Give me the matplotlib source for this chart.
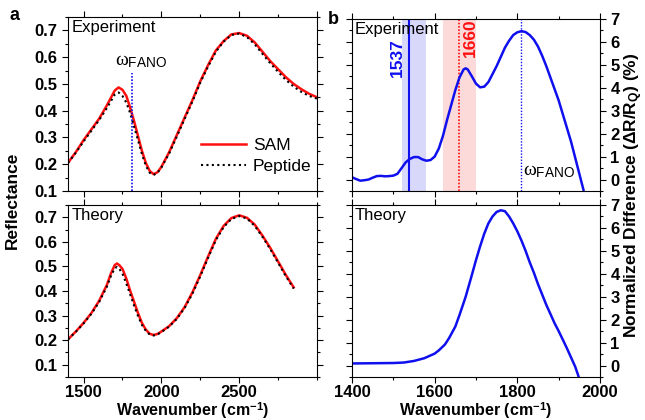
import matplotlib
matplotlib.use("Agg")
import matplotlib.pyplot as plt
from matplotlib.ticker import MultipleLocator, FormatStrFormatter

plt.rcParams['font.family'] = ['Liberation Sans', 'DejaVu Sans']
plt.rcParams['mathtext.fontset'] = 'custom'
plt.rcParams['mathtext.rm'] = 'Liberation Sans'
plt.rcParams['mathtext.it'] = 'Liberation Serif'
plt.rcParams['mathtext.bf'] = 'Liberation Sans:bold'
plt.rcParams['mathtext.sf'] = 'Liberation Sans'

# ---------------- data ----------------
# (a) Experiment reflectance
exp_wn = [1400, 1450, 1500, 1550, 1600, 1650, 1700, 1725, 1750, 1775, 1800, 1825, 1850,
          1875, 1900, 1925, 1950, 1975, 2000, 2050, 2100, 2150, 2200, 2250, 2300, 2350,
          2400, 2450, 2500, 2550, 2600, 2650, 2700, 2750, 2800, 2850, 2900, 2950, 3000]
exp_sam = [0.205, 0.245, 0.29, 0.33, 0.37, 0.42, 0.475, 0.487, 0.478, 0.455, 0.41, 0.36, 0.305,
           0.25, 0.205, 0.175, 0.163, 0.17, 0.19, 0.245, 0.31, 0.375, 0.44, 0.51, 0.57, 0.625,
           0.66, 0.685, 0.69, 0.68, 0.655, 0.62, 0.585, 0.555, 0.525, 0.5, 0.48, 0.463, 0.45]
exp_pep = [0.205, 0.243, 0.285, 0.325, 0.365, 0.41, 0.46, 0.468, 0.455, 0.43, 0.39, 0.34, 0.29,
           0.238, 0.195, 0.168, 0.16, 0.168, 0.188, 0.24, 0.305, 0.37, 0.435, 0.505, 0.565, 0.62,
           0.658, 0.683, 0.688, 0.675, 0.648, 0.612, 0.577, 0.545, 0.515, 0.49, 0.47, 0.455, 0.445]

# (a) Theory reflectance
th_wn = [1400, 1450, 1500, 1550, 1600, 1650, 1675, 1700, 1715, 1730, 1750, 1775, 1800, 1825,
         1850, 1875, 1900, 1925, 1950, 1975, 2000, 2050, 2100, 2150, 2200, 2250, 2300, 2350,
         2400, 2450, 2500, 2550, 2600, 2650, 2700, 2750, 2800, 2850]
th_sam = [0.203, 0.235, 0.27, 0.31, 0.36, 0.425, 0.47, 0.505, 0.512, 0.505, 0.49, 0.45, 0.40, 0.355,
          0.31, 0.27, 0.243, 0.226, 0.221, 0.225, 0.235, 0.257, 0.29, 0.335, 0.395, 0.465, 0.54, 0.612,
          0.665, 0.697, 0.708, 0.698, 0.67, 0.625, 0.575, 0.52, 0.465, 0.415]
th_pep = [0.203, 0.234, 0.268, 0.307, 0.355, 0.418, 0.46, 0.492, 0.498, 0.49, 0.47, 0.43, 0.385, 0.34,
          0.298, 0.262, 0.238, 0.223, 0.219, 0.223, 0.233, 0.255, 0.287, 0.332, 0.39, 0.46, 0.535, 0.607,
          0.66, 0.693, 0.705, 0.695, 0.665, 0.62, 0.57, 0.515, 0.46, 0.41]

# (b) Experiment normalized difference (%)
dexp_wn = [1400, 1410, 1420, 1430, 1440, 1450, 1460, 1470, 1480, 1490, 1500, 1510, 1520, 1530,
           1540, 1550, 1560, 1570, 1580, 1590, 1600, 1610, 1620, 1630, 1640, 1650, 1660, 1670,
           1675, 1680, 1690, 1700, 1710, 1720, 1730, 1740, 1750, 1760, 1770, 1780, 1790, 1800,
           1810, 1820, 1830, 1840, 1850, 1860, 1870, 1880, 1890, 1900, 1910, 1920, 1930, 1940,
           1950, 1960]
dexp_val = [0.1, 0.02, -0.05, -0.03, 0.0, 0.08, 0.15, 0.16, 0.14, 0.15, 0.17, 0.25, 0.5, 0.75,
            0.9, 0.98, 0.98, 0.88, 0.82, 0.85, 1.0, 1.35, 1.9, 2.6, 3.25, 3.9, 4.45, 4.8,
            4.85, 4.8, 4.5, 4.18, 4.02, 4.05, 4.25, 4.6, 4.95, 5.35, 5.75, 6.05, 6.3, 6.42,
            6.47, 6.43, 6.3, 6.1, 5.8, 5.4, 4.95, 4.45, 3.95, 3.45, 2.85, 2.25, 1.65, 0.95,
            0.25, -0.45]

# (b) Theory normalized difference (%)
dth_wn = [1400, 1450, 1500, 1525, 1550, 1575, 1600, 1610, 1625, 1635, 1650, 1660, 1675, 1690,
          1700, 1710, 1720, 1730, 1740, 1750, 1760, 1770, 1780, 1790, 1800, 1810, 1820, 1830,
          1840, 1850, 1860, 1870, 1880, 1890, 1900, 1910, 1920, 1930, 1940, 1948]
dth_val = [0.09, 0.1, 0.11, 0.13, 0.2, 0.32, 0.52, 0.66, 0.92, 1.2, 1.7, 2.2, 3.0, 3.95,
           4.6, 5.2, 5.75, 6.2, 6.5, 6.7, 6.77, 6.73, 6.5, 6.2, 5.85, 5.45, 5.0, 4.5,
           4.05, 3.55, 3.1, 2.65, 2.25, 1.85, 1.5, 1.13, 0.75, 0.35, -0.05, -0.47]

fano_a = 1812
mode_amide2 = 1537
band_amide2 = (1520, 1580)
mode_amide1 = 1660
band_amide1 = (1620, 1700)
fano_b = 1810

# ---------------- figure ----------------
fig = plt.figure(figsize=(6.45, 4.2), dpi=100)
L, W = 68/645, 249/645
R, WR = 352/645, 248/645
ax1 = fig.add_axes([L, 1-191/420, W, 174/420])
ax2 = fig.add_axes([L, 1-377/420, W, 172/420])
ax3 = fig.add_axes([R, 1-191/420, WR, 172/420])
ax4 = fig.add_axes([R, 1-377/420, WR, 172/420])

red = '#ff1010'
blue = '#1010ee'

def style(ax):
    ax.tick_params(which='both', direction='out', top=True, right=True, left=True, bottom=True,
                   labelsize=12, width=0.8)
    ax.tick_params(which='major', length=4)
    ax.tick_params(which='minor', length=2.5)
    ax.tick_params(axis='x', pad=2)
    for s in ax.spines.values():
        s.set_linewidth(0.8)

def bold_ticks(ax):
    for lab in ax.get_xticklabels() + ax.get_yticklabels():
        lab.set_fontweight('bold')

# (a) experiment
ax1.plot(exp_wn, exp_sam, color=red, lw=1.8, label='SAM')
ax1.plot(exp_wn, exp_pep, color='black', lw=1.5, ls=(0, (1, 1.6)), label='Peptide')
ax1.plot([fano_a, fano_a], [0.1, 0.54], color=blue, lw=1.2, ls=(0, (1, 1)))
ax1.set_xlim(1400, 3000)
ax1.set_ylim(0.1, 0.75)
ax1.xaxis.set_major_locator(MultipleLocator(500))
ax1.xaxis.set_minor_locator(MultipleLocator(250))
ax1.yaxis.set_major_locator(MultipleLocator(0.1))
ax1.yaxis.set_minor_locator(MultipleLocator(0.05))
ax1.yaxis.set_major_formatter(FormatStrFormatter('%.1f'))
ax1.text(0.015, 0.985, 'Experiment', transform=ax1.transAxes, fontsize=12, va='top', ha='left')
ax1.text(1700, 0.585, r'$\omega_{\rm FANO}$', fontsize=14, ha='left', va='center')
ax1.legend(loc='lower right', bbox_to_anchor=(1.02, 0.04), frameon=False, fontsize=12.5,
           handlelength=2.6, handletextpad=0.4, labelspacing=0.3, borderaxespad=0.2)
style(ax1)
ax1.tick_params(labelbottom=False)
bold_ticks(ax1)

# (a) theory
ax2.plot(th_wn, th_sam, color=red, lw=1.8)
ax2.plot(th_wn, th_pep, color='black', lw=1.5, ls=(0, (1, 1.6)))
ax2.set_xlim(1400, 3000)
ax2.set_ylim(0.05, 0.75)
ax2.xaxis.set_major_locator(MultipleLocator(500))
ax2.xaxis.set_minor_locator(MultipleLocator(250))
ax2.yaxis.set_major_locator(MultipleLocator(0.1))
ax2.yaxis.set_minor_locator(MultipleLocator(0.05))
ax2.yaxis.set_major_formatter(FormatStrFormatter('%.1f'))
ax2.set_yticks([0.1, 0.2, 0.3, 0.4, 0.5, 0.6, 0.7])
ax2.set_xticks([1500, 2000, 2500])
ax2.text(0.015, 0.985, 'Theory', transform=ax2.transAxes, fontsize=12, va='top', ha='left')
style(ax2)
bold_ticks(ax2)
ax2.set_xlabel(r'Wavenumber (cm$^{\mathbf{-1}}$)', fontsize=11.5, fontweight='bold', labelpad=0)

# (b) experiment
ax3.axvspan(*band_amide2, color='#d8d8fa', lw=0)
ax3.axvspan(*band_amide1, color='#fddada', lw=0)
ax3.axvline(mode_amide2, color=blue, lw=1.5)
ax3.axvline(mode_amide1, color=red, lw=1.2, ls=(0, (1, 1)))
ax3.axvline(fano_b, color=blue, lw=1.0, ls=(0, (1, 1.2)))
ax3.plot(dexp_wn, dexp_val, color=blue, lw=1.8)
ax3.set_xlim(1400, 2000)
ax3.set_ylim(-0.5, 7)
ax3.xaxis.set_major_locator(MultipleLocator(200))
ax3.xaxis.set_minor_locator(MultipleLocator(100))
ax3.yaxis.set_major_locator(MultipleLocator(1))
ax3.yaxis.set_minor_locator(MultipleLocator(0.5))
ax3.text(0.01, 0.985, 'Experiment', transform=ax3.transAxes, fontsize=12, va='top', ha='left')
ax3.text(1527, 5.3, str(mode_amide2), color=blue, fontsize=12.5, fontweight='bold',
         rotation=90, ha='right', va='center')
ax3.text(1686, 6.2, str(mode_amide1), color=red, fontsize=12.5, fontweight='bold',
         rotation=90, ha='center', va='center')
ax3.text(1813, 0.35, r'$\omega_{\rm FANO}$', fontsize=14, ha='left', va='center')
style(ax3)
ax3.tick_params(labelleft=False, labelright=True, labelbottom=False)
bold_ticks(ax3)

# (b) theory
ax4.plot(dth_wn, dth_val, color=blue, lw=1.8)
ax4.set_xlim(1400, 2000)
ax4.set_ylim(-0.5, 7)
ax4.xaxis.set_major_locator(MultipleLocator(200))
ax4.xaxis.set_minor_locator(MultipleLocator(100))
ax4.yaxis.set_major_locator(MultipleLocator(1))
ax4.yaxis.set_minor_locator(MultipleLocator(0.5))
ax4.text(0.01, 0.985, 'Theory', transform=ax4.transAxes, fontsize=12, va='top', ha='left')
style(ax4)
ax4.tick_params(labelleft=False, labelright=True)
bold_ticks(ax4)
ax4.set_xlabel(r'Wavenumber (cm$^{\mathbf{-1}}$)', fontsize=11.5, fontweight='bold', labelpad=0)

fig.text(12/645, 1-200/420, 'Reflectance', rotation=90, fontsize=12.5, fontweight='bold',
         ha='center', va='center')
fig.text(634/645, 1-195/420, r'Normalized Difference (ΔR/R$_{\mathbf{Q}}$) (%)', rotation=90,
         fontsize=12.5, fontweight='bold', ha='center', va='center')
fig.text(14/645, 1-15/420, 'a', fontsize=13, fontweight='bold', ha='center', va='center')
fig.text(333/645, 1-19/420, 'b', fontsize=13, fontweight='bold', ha='center', va='center')

fig.savefig('out.png', dpi=100)
